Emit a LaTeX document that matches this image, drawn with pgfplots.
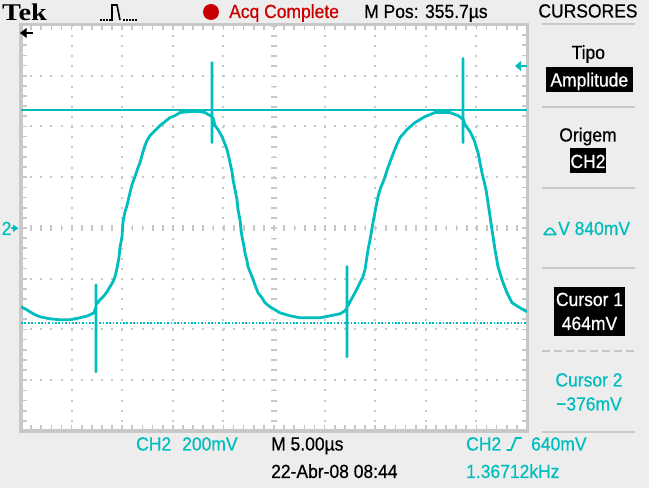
\documentclass[border=0pt]{standalone}
\usepackage{pgfplots}
\pgfplotsset{compat=1.18}
\usepackage{fontspec}
\setmainfont{Liberation Sans}[FakeStretch=0.92, FakeBold=0.6]
\newfontfamily\tekserif{Liberation Serif}[FakeStretch=1.18]
\definecolor{tekcyan}{RGB}{0,190,190}
\definecolor{tekred}{RGB}{200,0,0}
\definecolor{gridgray}{RGB}{200,200,200}
\definecolor{bggray}{RGB}{237,237,237}
\newcommand\tf{\fontsize{19bp}{20bp}\selectfont}
\begin{document}
\begin{tikzpicture}
\useasboundingbox (0,0) rectangle (649bp,488bp);
\fill[bggray] (0,0) rectangle (649bp,488bp);
\fill[white] (21bp,57bp) rectangle (527bp,463bp);
\begin{axis}[
  at={(21bp,57bp)}, anchor=south west,
  scale only axis, width=506bp, height=406bp,
  xmin=0, xmax=50, ymin=-800, ymax=800,
  xtick={0,5,...,50}, ytick={-800,-600,...,800},
  minor x tick num=4, minor y tick num=4,
  xticklabels={}, yticklabels={},
  tick align=inside,
  major tick length=5.5bp, minor tick length=5.5bp,
  every tick/.style={gridgray, line width=1.7bp},
  axis line style={gridgray, line width=3bp},
  grid=major,
  major grid style={gridgray, line width=2bp, dash pattern=on 2bp off 8.13bp, dash phase=1bp},
  extra x ticks={25}, extra y ticks={0},
  extra x tick labels={}, extra y tick labels={},
  extra tick style={grid=major, major grid style={gridgray, line width=6bp, dash pattern=on 1.8bp off 8.33bp, dash phase=0.9bp}},
]
% cursor 1 (464 mV) and cursor 2 (-376 mV)
\addplot[tekcyan, line width=2bp] coordinates {(0,464) (50,464)};
\addplot[tekcyan, line width=2bp, dash pattern=on 1.7bp off 1.7bp] coordinates {(0,-376) (50,-376)};
% CH2 trace
\addplot[tekcyan, line width=2.8bp, line join=round, no marks] coordinates {
(0,-310.5) (0.40,-318.3) (0.89,-330.2) (1.38,-342.0) (1.88,-349.9) (2.87,-357.8) (3.85,-361.7) (4.84,-361.7) (5.83,-353.8) (6.62,-346.0) (7.21,-334.1) (7.41,-310.5) (7.41,-223.7) (7.41,-566.9) (7.41,-302.6) (7.81,-282.8) (8.20,-267.1) (8.50,-251.3) (8.79,-231.6) (9.09,-211.8) (9.29,-192.1) (9.49,-157.0) (9.68,-117.2) (9.78,-77.7) (9.98,-34.3) (10.08,24.9) (10.28,64.3) (10.47,88.0) (10.77,139.3) (10.97,170.8) (11.26,202.4) (11.56,237.9) (11.76,257.6) (12.06,301.0) (12.25,324.7) (12.45,344.4) (12.75,364.1) (13.24,383.8) (13.74,403.6) (14.23,419.3) (14.72,435.1) (15.22,443.0) (15.71,454.8) (16.70,458.8) (17.69,458.8) (18.18,454.8) (18.68,443.0) (18.87,439.1) (18.87,652.1) (18.87,336.5) (18.87,435.1) (18.97,435.1) (19.17,403.6) (19.47,387.8) (19.86,360.2) (20.06,340.4) (20.36,308.9) (20.55,277.3) (20.65,257.6) (20.85,222.1) (20.95,190.5) (21.15,151.1) (21.34,111.6) (21.44,72.2) (21.64,32.7) (21.74,-6.7) (21.84,-34.3) (22.04,-73.8) (22.13,-97.4) (22.33,-129.0) (22.43,-152.7) (22.63,-172.4) (22.83,-192.1) (23.12,-223.7) (23.42,-255.2) (23.81,-274.9) (24.11,-294.7) (24.60,-310.5) (25.10,-322.3) (25.59,-334.1) (26.58,-346.0) (27.57,-353.8) (28.56,-353.8) (29.55,-353.8) (30.53,-346.0) (31.52,-338.1) (32.02,-326.2) (32.21,-314.4) (32.21,-151.5) (32.21,-507.7) (32.21,-306.5) (32.31,-306.5) (32.51,-290.7) (33.00,-255.2) (33.50,-215.8) (33.79,-192.1) (33.99,-164.5) (34.29,-85.6) (34.49,-46.2) (34.78,20.9) (35.08,84.0) (35.28,123.5) (35.47,151.1) (35.87,190.5) (36.26,237.9) (36.66,281.3) (37.05,320.7) (37.45,356.2) (38.14,387.8) (38.93,415.4) (39.92,439.1) (40.91,454.8) (42.39,454.8) (43.18,443.0) (43.58,431.2) (43.68,431.2) (43.68,667.9) (43.68,336.5) (43.68,431.2) (43.87,407.5) (44.37,379.9) (44.76,348.3) (45.16,297.0) (45.55,218.1) (45.95,151.1) (46.25,72.2) (46.54,-6.7) (46.84,-85.6) (47.13,-151.5) (47.53,-203.9) (48.02,-255.2) (48.52,-294.7) (49.31,-314.4) (50.00,-330.2)
};
\end{axis}
\begin{scope}[x=1bp,y=-1bp,shift={(0bp,488bp)}]
% header
\node[anchor=base west, inner sep=0pt] at (2,20.5) {\tekserif\bfseries\fontsize{24bp}{25bp}\selectfont Tek};
\fill[black] \foreach \xx in {101,104,107} {(\xx-0.8,19.2) rectangle (\xx+0.8,20.8)};
\draw[black, line width=1.6bp] (109,20) -- (112,20) -- (112,5) -- (117,5) -- (120,20);
\fill[black] \foreach \xx in {124,127,130,133,136} {(\xx-0.8,19.2) rectangle (\xx+0.8,20.8)};
\fill[tekred] (211,12) circle (8);
\node[anchor=base west, inner sep=0pt, text=tekred] at (229,18) {\tf Acq Complete};
\node[anchor=base west, inner sep=0pt] at (364,18) {\tf M Pos: 355.7µs};
\node[anchor=base, inner sep=0pt] at (588,17.5) {\tf CURSORES};
% right panel
\draw[gridgray, line width=2bp] (541.7,24.3) -- (635,24.3);
\node[anchor=base, inner sep=0pt] at (588.3,59) {\tf Tipo};
\fill[black] (546,66.7) rectangle (632.7,91.7);
\node[anchor=base, inner sep=0pt, text=white] at (589.3,86.5) {\tf Amplitude};
\draw[gridgray, line width=2bp] (541.7,106.7) -- (635,106.7);
\node[anchor=base, inner sep=0pt] at (588,141.5) {\tf Origem};
\fill[black] (570,148.3) rectangle (606,172.7);
\node[anchor=base, inner sep=0pt, text=white] at (588,168) {\tf CH2};
\draw[gridgray, line width=2bp] (541.7,187.7) -- (635,187.7);
\draw[tekcyan, line width=1.6bp, line join=round] (544,234.5) -- (556,234.5) -- (551.5,228.5) -- (548.5,228.5) -- cycle;
\node[anchor=base west, inner sep=0pt, text=tekcyan] at (558,235) {\tf V 840mV};
\draw[gridgray, line width=2bp] (541.7,268.3) -- (635,268.3);
\fill[black] (554,286.7) rectangle (625,335.7);
\node[anchor=base, inner sep=0pt, text=white] at (589.5,306) {\tf Cursor 1};
\node[anchor=base, inner sep=0pt, text=white] at (589.5,330) {\tf 464mV};
\draw[gridgray, line width=2bp, dash pattern=on 8bp off 4bp] (541.7,350.7) -- (635,350.7);
\node[anchor=base, inner sep=0pt, text=tekcyan] at (589,386.5) {\tf Cursor 2};
\node[anchor=base, inner sep=0pt, text=tekcyan] at (589,410.5) {\tf −376mV};
\draw[gridgray, line width=2bp] (541.7,432) -- (635,432);
% bottom
\node[anchor=base west, inner sep=0pt, text=tekcyan] at (136,450.5) {\tf CH2};
\node[anchor=base west, inner sep=0pt, text=tekcyan] at (182,450.5) {\tf 200mV};
\node[anchor=base west, inner sep=0pt] at (271,450.5) {\tf M 5.00µs};
\node[anchor=base west, inner sep=0pt, text=tekcyan] at (466,450.5) {\tf CH2};
\draw[tekcyan, line width=1.8bp] (506.5,450) -- (511,450) -- (516,438) -- (521.5,438);
\node[anchor=base west, inner sep=0pt, text=tekcyan] at (531,450.5) {\tf 640mV};
\node[anchor=base west, inner sep=0pt] at (271,478) {\tf 22-Abr-08 08:44};
\node[anchor=base west, inner sep=0pt, text=tekcyan] at (466,478) {\tf 1.36712kHz};
% screen markers
\fill[black] (20,33) -- (26.5,28) -- (26.5,38) -- cycle;
\draw[black, line width=2.2bp] (25,33) -- (33,33);
\node[anchor=base west, inner sep=0pt, text=tekcyan] at (1.5,235) {\tf 2};
\fill[tekcyan] (18.5,228.3) -- (13,224.5) -- (13,232) -- cycle;
\draw[tekcyan, line width=1.6bp] (11,228.3) -- (14,228.3);
\fill[tekcyan] (515,66) -- (521,61) -- (521,71) -- cycle;
\draw[tekcyan, line width=2bp] (520,66) -- (527,66);
\end{scope}
\end{tikzpicture}
\end{document}
